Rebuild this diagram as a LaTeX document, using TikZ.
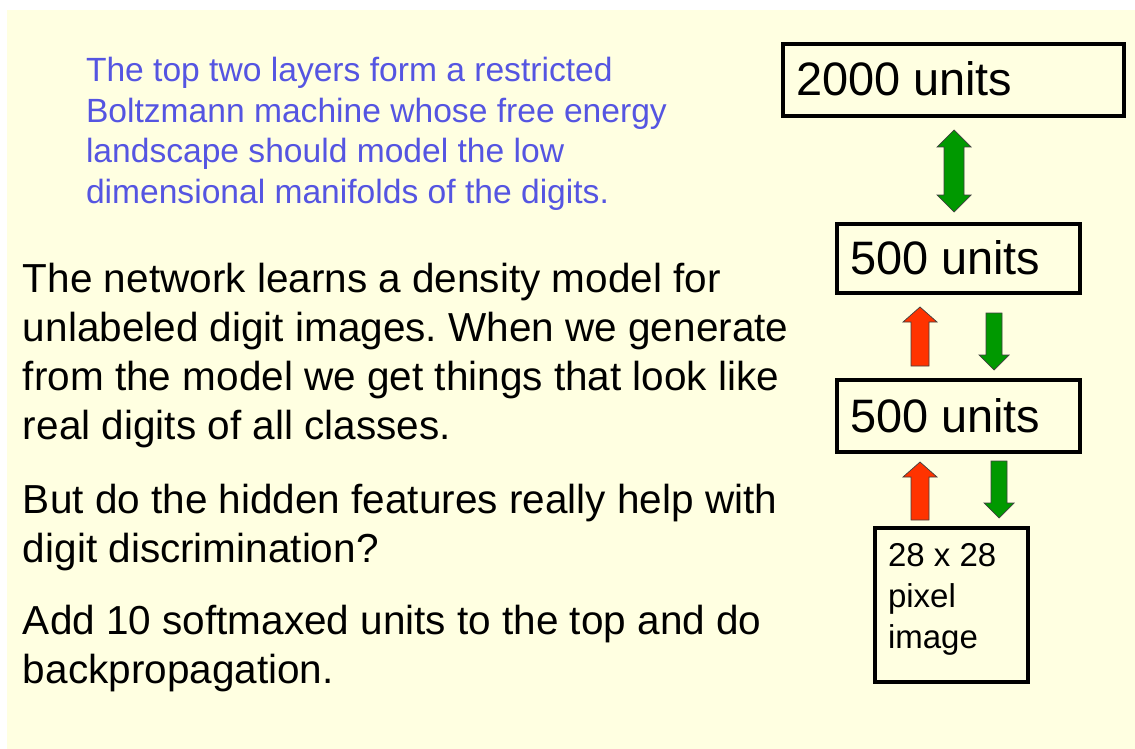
\documentclass[tikz,border=0pt]{standalone}
\usepackage{fontspec}
\setmainfont{Liberation Sans}

\definecolor{bg}{RGB}{255,255,225}
\definecolor{bluetext}{RGB}{85,85,225}
\definecolor{arrowgreen}{RGB}{0,153,0}
\definecolor{arrowred}{RGB}{255,51,0}

\tikzset{
  txt/.style={anchor=base west, inner sep=0pt, outer sep=0pt},
  para/.style={txt, font=\fontsize{40.5}{48}\selectfont\frenchspacing},
  note/.style={txt, text=bluetext, font=\fontsize{33.6}{40}\selectfont\frenchspacing},
  layer/.style={draw=black, line width=4pt, fill=bg, inner sep=0pt},
  layerlabel/.style={txt, font=\fontsize{46.9}{56}\selectfont},
  pixlabel/.style={txt, font=\fontsize{33}{41}\selectfont},
  blockarrow/.style={draw=black!75, line width=0.7pt, line join=miter},
}

% block arrow pointing up: x, tip y, tail y, head width, shaft width, head length, colour
\newcommand\blockup[7]{%
  \filldraw[blockarrow, fill=#7]
    ({#1-#5/2},#3) -- ({#1-#5/2},{#2+#6}) -- ({#1-#4/2},{#2+#6}) -- (#1,#2)
    -- ({#1+#4/2},{#2+#6}) -- ({#1+#5/2},{#2+#6}) -- ({#1+#5/2},#3) -- cycle;}
% block arrow pointing down: x, tip y, tail y, head width, shaft width, head length, colour
\newcommand\blockdown[7]{%
  \filldraw[blockarrow, fill=#7]
    ({#1-#5/2},#3) -- ({#1-#5/2},{#2-#6}) -- ({#1-#4/2},{#2-#6}) -- (#1,#2)
    -- ({#1+#4/2},{#2-#6}) -- ({#1+#5/2},{#2-#6}) -- ({#1+#5/2},#3) -- cycle;}

\begin{document}
\begin{tikzpicture}[x=1pt, y=-1pt]
  \useasboundingbox (0,0) rectangle (1135,749);
  \fill[bg] (7,10) rectangle (1135,749);

  % explanatory note
  \node[note] (n1) at (86,82)    {The top two layers form a restricted};
  \node[note] (n2) at (86,122.5) {Boltzmann machine whose free energy};
  \node[note] (n3) at (86,163)   {landscape should model the low};
  \node[note] (n4) at (86,203.5) {dimensional manifolds of the digits.};

  % main text
  \node[para] (p1) at (23,292) {The network learns a density model for};
  \node[para] (p2) at (23,341) {unlabeled digit images. When we generate};
  \node[para] (p3) at (23,390) {from the model we get things that look like};
  \node[para] (p4) at (23,439) {real digits of all classes.};
  \node[para] (q1) at (23,513) {But do the hidden features really help with};
  \node[para] (q2) at (23,562) {digit discrimination?};
  \node[para] (r1) at (23,634) {Add 10 softmaxed units to the top and do};
  \node[para] (r2) at (23,683) {backpropagation.};

  % layer stack
  \node[layer, minimum width=341pt, minimum height=72pt] (top) at (953.5,80) {};
  \node[layerlabel] (toplabel) at (796,96) {2000 units};
  \node[layer, minimum width=243pt, minimum height=69pt] (hidB) at (958.5,258.5) {};
  \node[layerlabel] (hidBlabel) at (850,274) {500 units};
  \node[layer, minimum width=243pt, minimum height=72pt] (hidA) at (958.5,416) {};
  \node[layerlabel] (hidAlabel) at (850,432) {500 units};
  \node[layer, minimum width=153pt, minimum height=154pt] (pix) at (951.5,605) {};
  \node[pixlabel] (pix1) at (888,566) {28 x 28};
  \node[pixlabel] (pix2) at (888,607) {pixel};
  \node[pixlabel] (pix3) at (888,648) {image};

  % undirected connection between the top two layers
  \filldraw[blockarrow, fill=arrowgreen]
    (944,147) -- (937,147) -- (954,130) -- (971,147) -- (964,147)
    -- (964,195) -- (971,195) -- (954,212) -- (937,195) -- (944,195) -- cycle;

  % recognition (up) and generative (down) connections
  \blockup{920}{307}{366}{34}{18}{15}{arrowred}
  \blockdown{994}{370}{313}{30}{16}{15}{arrowgreen}
  \blockup{920}{462}{520}{34}{18}{15}{arrowred}
  \blockdown{999}{518}{461}{30}{16}{15}{arrowgreen}
\end{tikzpicture}
\end{document}
